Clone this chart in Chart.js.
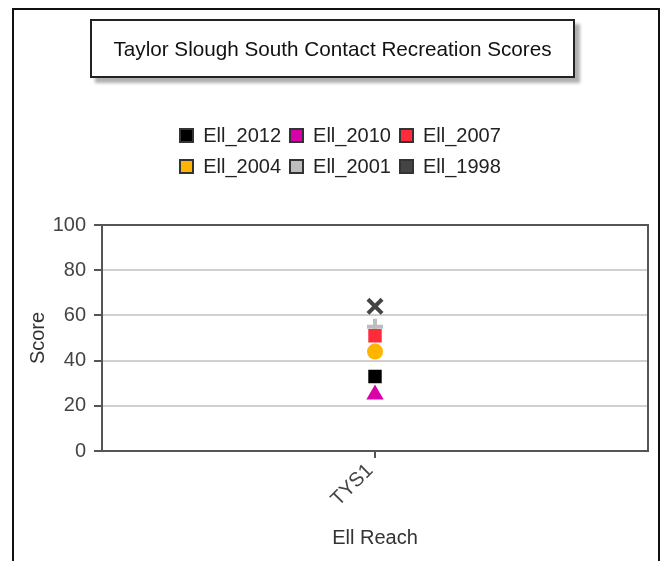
<!DOCTYPE html>
<html>
<head>
<meta charset="utf-8">
<script src="https://cdn.jsdelivr.net/npm/chart.js@4.4.1/dist/chart.umd.min.js"></script>
<style>
  body { margin: 0; background: #fff; font-family: "Liberation Sans", Arial, sans-serif; }
  #wrap { position: relative; width: 663px; height: 561px; overflow: hidden; }
  #frame { position: absolute; left: 12px; top: 8px; width: 644px; height: 600px; border: 2px solid #111; pointer-events: none; }
  #title { position: absolute; left: 90px; top: 19px; width: 485px; height: 59px; box-sizing: border-box;
           border: 2px solid #222; background: #fff; box-shadow: 5px 5px 3px #b0b0b0;
           font-size: 20.7px; color: #111; display: flex; align-items: center; justify-content: center; }
  #legend { position: absolute; left: 0; top: 120px; width: 680px; }
  .row { display: flex; justify-content: center; height: 31px; align-items: center; }
  .item { display: flex; align-items: center; margin: 0 4px; font-size: 20px; color: #222; }
  .box { width: 15px; height: 15px; box-sizing: border-box; border: 2px solid #333; margin-right: 9px; }
  canvas { position: absolute; left: 0; top: 0; }
</style>
</head>
<body>
<div id="wrap">
  <canvas id="chart" width="663" height="561"></canvas>
  <div id="frame"></div>
  <div id="title">Taylor Slough South Contact Recreation Scores</div>
  <div id="legend"></div>
</div>
<script>
// valeurs
const categories = ['TYS1'];
const seriesNames = ['Ell_2012', 'Ell_2010', 'Ell_2007', 'Ell_2004', 'Ell_2001', 'Ell_1998'];
const seriesValues = [[33], [25], [51], [44], [55], [64]];
const yTicks = [0, 20, 40, 60, 80, 100];

// styles des séries
const colors = ['#000000', '#d800a8', '#ff2a3a', '#ffb400', '#bdbdbd', '#444444'];
const pointStyles = ['rect', 'triangle', 'rect', 'circle', 'cross', 'crossRot'];
const radii = [9.5, 10, 9.5, 8, 8, 10];

// légende HTML : 3 éléments par ligne
const legend = document.getElementById('legend');
for (let r = 0; r < 2; r++) {
    const row = document.createElement('div');
    row.className = 'row';
    for (let i = r * 3; i < r * 3 + 3; i++) {
        const item = document.createElement('div');
        item.className = 'item';
        item.innerHTML = '<span class="box" style="background:' + colors[i] + '"></span>' + seriesNames[i];
        row.appendChild(item);
    }
    legend.appendChild(row);
}

// cadre autour de la zone de tracé
const plotBorder = {
    id: 'plotBorder',
    afterDraw(chart) {
        const a = chart.chartArea;
        const ctx = chart.ctx;
        ctx.save();
        ctx.strokeStyle = '#555';
        ctx.lineWidth = 2;
        ctx.strokeRect(a.left, a.top, a.right - a.left, a.bottom - a.top);
        ctx.restore();
    }
};

Chart.defaults.font.family = '"Liberation Sans", Arial, sans-serif';
Chart.defaults.font.size = 20;
Chart.defaults.color = '#333';

new Chart(document.getElementById('chart').getContext('2d'), {
    type: 'line',
    data: {
        labels: categories,
        datasets: seriesNames.map((name, i) => ({
            label: name,
            data: seriesValues[i],
            showLine: false,
            pointStyle: pointStyles[i],
            pointRadius: radii[i],
            pointBackgroundColor: colors[i],
            pointBorderColor: colors[i],
            pointBorderWidth: (pointStyles[i] === 'cross' || pointStyles[i] === 'crossRot') ? 4 : 0
        }))
    },
    options: {
        responsive: false,
        animation: false,
        layout: { padding: { top: 225, left: 12, right: 15, bottom: 0 } },
        plugins: { legend: { display: false }, title: { display: false }, tooltip: { enabled: false } },
        scales: {
            x: {
                offset: true,
                grid: { drawOnChartArea: false, tickLength: 7, tickColor: '#555', lineWidth: 2 },
                border: { color: '#555', width: 2 },
                ticks: { maxRotation: 45, minRotation: 45, padding: 1, labelOffset: -5, color: '#444' },
                title: { display: true, text: 'Ell Reach', padding: { top: 4, bottom: 11 }, color: '#333' },
                afterFit(scale) { scale.height = 110; }
            },
            y: {
                min: 0,
                max: 100,
                afterBuildTicks(scale) { scale.ticks = yTicks.map(v => ({ value: v })); },
                grid: { color: '#d0d0d0', lineWidth: 2, tickLength: 8, tickColor: '#555' },
                border: { color: '#555', width: 2 },
                ticks: { padding: 8, color: '#444' },
                title: { display: true, text: 'Score', padding: { top: 14, bottom: 4 }, color: '#333' },
                afterFit(scale) { scale.width = 90; }
            }
        }
    },
    plugins: [plotBorder]
});
</script>
</body>
</html>
